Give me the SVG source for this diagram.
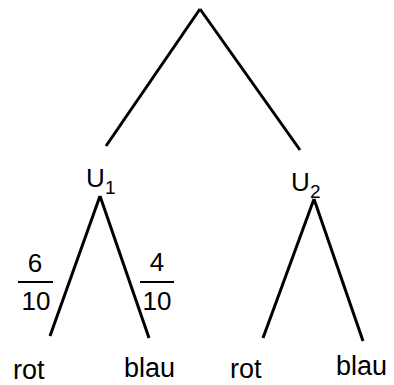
<svg xmlns="http://www.w3.org/2000/svg" width="394" height="385" viewBox="0 0 394 385">
  <style>
    .t { font-family: "Liberation Sans", Arial, sans-serif; fill: #000; }
    .leaf { font-size: 27px; }
    .frac { font-size: 26px; text-anchor: middle; }
    .u { font-size: 26px; }
    .sub { font-size: 19px; }
    .edge { stroke: #000; stroke-width: 3; fill: none; stroke-linecap: butt; }
    .bar { stroke: #000; stroke-width: 1.8; }
  </style>
  <rect width="394" height="385" fill="#fff"/>
  <g id="connectors">
    <line class="edge" x1="200" y1="9" x2="106" y2="146"/>
    <line class="edge" x1="200" y1="9" x2="300" y2="150"/>
    <line class="edge" x1="100" y1="196" x2="50" y2="336"/>
    <line class="edge" x1="100" y1="196" x2="149" y2="338"/>
    <line class="edge" x1="314" y1="199" x2="263" y2="338"/>
    <line class="edge" x1="314" y1="199" x2="363" y2="341"/>
  </g>
  <g id="U1">
    <text class="t u" x="86" y="187">U</text>
    <text class="t sub" x="105" y="194">1</text>
  </g>
  <g id="U2">
    <text class="t u" x="291" y="191">U</text>
    <text class="t sub" x="310" y="198">2</text>
  </g>
  <g id="p1">
    <text class="t frac" x="35" y="272">6</text>
    <line class="bar" x1="18" y1="282" x2="53" y2="282"/>
    <text class="t frac" x="36" y="310">10</text>
  </g>
  <g id="p2">
    <text class="t frac" x="157" y="271">4</text>
    <line class="bar" x1="140" y1="282" x2="174" y2="282"/>
    <text class="t frac" x="157" y="310">10</text>
  </g>
  <g id="rot1"><text class="t leaf" x="13" y="379">rot</text></g>
  <g id="blau1"><text class="t leaf" x="124" y="377">blau</text></g>
  <g id="rot2"><text class="t leaf" x="230" y="378">rot</text></g>
  <g id="blau2"><text class="t leaf" x="336" y="375">blau</text></g>
</svg>
